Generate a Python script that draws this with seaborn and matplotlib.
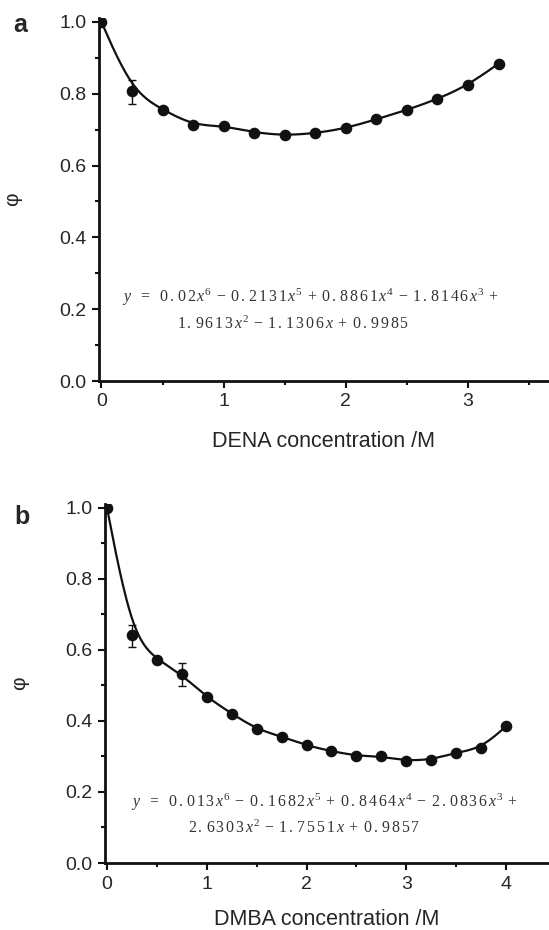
import numpy as np
import pandas as pd
import seaborn as sns
import matplotlib.pyplot as plt
from matplotlib.ticker import MultipleLocator

# panel a : DENA
dena_x = [0, 0.25, 0.5, 0.75, 1.0, 1.25, 1.5, 1.75, 2.0, 2.25, 2.5, 2.75, 3.0, 3.25]
dena_phi = [1.0, 0.807, 0.756, 0.712, 0.711, 0.692, 0.684, 0.690, 0.704, 0.729, 0.755, 0.785, 0.824, 0.884]
dena_err_x = [0.25]
dena_err_y = [0.805]
dena_err = [0.033]

# panel b : DMBA
dmba_x = [0, 0.25, 0.5, 0.75, 1.0, 1.25, 1.5, 1.75, 2.0, 2.25, 2.5, 2.75, 3.0, 3.25, 3.5, 3.75, 4.0]
dmba_phi = [1.0, 0.641, 0.573, 0.531, 0.467, 0.421, 0.377, 0.356, 0.331, 0.315, 0.302, 0.300,
            0.288, 0.291, 0.311, 0.323, 0.385]
dmba_err_x = [0.25, 0.75]
dmba_err_y = [0.638, 0.530]
dmba_err = [0.031, 0.032]

# fitted polynomials as printed on the chart: (coefficient, power)
eq_a_terms = [("0.02", 6), ("0.2131", 5), ("0.8861", 4), ("1.8146", 3), ("1.9613", 2), ("1.1306", 1), ("0.9985", 0)]
eq_a_signs = ["", "-", "+", "-", "+", "-", "+"]
eq_b_terms = [("0.013", 6), ("0.1682", 5), ("0.8464", 4), ("2.0836", 3), ("2.6303", 2), ("1.7551", 1), ("0.9857", 0)]
eq_b_signs = ["", "-", "+", "-", "+", "-", "+"]

sns.set_style("ticks")
plt.rcParams['font.family'] = ['Liberation Sans', 'DejaVu Sans']
plt.rcParams['mathtext.fontset'] = 'custom'
plt.rcParams['mathtext.rm'] = 'Liberation Serif'
plt.rcParams['mathtext.it'] = 'Liberation Serif:italic'
plt.rcParams['mathtext.default'] = 'rm'


def bspline(x, y, n=30):
    # cubic B-spline connection through the points (ends clamped), like Origin's "B-Spline" line
    px = np.r_[x[0], x[0], x, x[-1], x[-1]]
    py = np.r_[y[0], y[0], y, y[-1], y[-1]]
    t = np.linspace(0, 1, n)
    b = np.array([(1 - t) ** 3, 3 * t ** 3 - 6 * t ** 2 + 4, -3 * t ** 3 + 3 * t ** 2 + 3 * t + 1, t ** 3]) / 6
    cx, cy = [], []
    for i in range(len(px) - 3):
        cx.append(b.T @ px[i:i + 4])
        cy.append(b.T @ py[i:i + 4])
    return np.concatenate(cx), np.concatenate(cy)


def term(sign, num, power):
    s = r"\,".join(num)
    if power == 1:
        s += r"\,\mathit{x}"
    elif power > 1:
        s += r"\,\mathit{x}^{%d}" % power
    if sign:
        s = r"\;%s\;" % ("-" if sign == "-" else "+") + s
    return s


def equation(terms, signs):
    parts = [term(sg, n, p) for (n, p), sg in zip(terms, signs)]
    line1 = r"$\mathit{y}\ \ =\ \ " + "".join(parts[:4]) + r"\;+$"
    line2 = "$" + "".join(parts[4:]).replace(r"\;+\;", "", 1) + "$"
    return line1, line2


fig = plt.figure(figsize=(5.49, 9.30), dpi=100)
W, H = 549, 930

def make_ax(left, right, top, bottom):
    return fig.add_axes([left / W, 1 - bottom / H, (right - left) / W, (bottom - top) / H])

ax_a = make_ax(99, 549, 18.4, 381)
ax_b = make_ax(105, 549, 504.4, 863)

panels = [
    (ax_a, dena_x, dena_phi, dena_err_x, dena_err_y, dena_err, (-0.02, 3.663),
     "DENA concentration /M", "a", (-0.19, 0.982), 15),
    (ax_b, dmba_x, dmba_phi, dmba_err_x, dmba_err_y, dmba_err, (-0.02, 4.431),
     "DMBA concentration /M", "b", (-0.205, 0.965), 12),
]

for ax, x, y, ex, ey, ee, xl, xlab, letter, lpos, lpad in panels:
    df = pd.DataFrame({"c": x, "phi": y})
    sx, sy = bspline(np.array(x, float), np.array(y, float))
    sns.lineplot(x=sx, y=sy, ax=ax, sort=False, estimator=None, color="#111111", lw=1.6)
    ax.errorbar(ex, ey, yerr=ee, fmt="none", ecolor="#111111", elinewidth=1.0, capsize=3, capthick=1.0)
    sns.scatterplot(data=df, x="c", y="phi", ax=ax, color="#111111", s=70, edgecolor="#111111",
                    linewidth=0, zorder=3)
    ax.set_xlim(*xl)
    ax.xaxis.set_major_locator(MultipleLocator(1))
    ax.xaxis.set_minor_locator(MultipleLocator(0.5))
    ax.set_yticks([0, 0.2, 0.4, 0.6, 0.8, 1.0])
    ax.set_yticklabels(["0.0", "0.2", "0.4", "0.6", "0.8", "1.0"])
    ax.yaxis.set_minor_locator(MultipleLocator(0.1))
    ax.set_ylim(0, 1.01)
    ax.tick_params(which="major", length=5, width=1.5, labelsize=14, pad=4, color="#111111")
    ax.tick_params(which="minor", length=3, width=1.5, color="#111111")
    for s in ["top", "right"]:
        ax.spines[s].set_visible(False)
    for s in ["left", "bottom"]:
        ax.spines[s].set_linewidth(2)
        ax.spines[s].set_color("#111111")
    ax.set_xlabel(xlab, fontsize=15.5, labelpad=lpad)
    ax.set_ylabel("φ", fontsize=15)
    ax.yaxis.set_label_coords(-0.17, 0.5)
    ax.text(lpos[0], lpos[1], letter, transform=ax.transAxes, fontsize=18, fontweight="bold", va="center")

eq_kw = dict(fontsize=11.4, color="#333333", ha="left", va="center")
a1, a2 = equation(eq_a_terms, eq_a_signs)
b1, b2 = equation(eq_b_terms, eq_b_signs)
ax_a.text(0.051, 0.232, a1, transform=ax_a.transAxes, **eq_kw)
ax_a.text(0.173, 0.160, a2, transform=ax_a.transAxes, **eq_kw)
ax_b.text(0.059, 0.170, b1, transform=ax_b.transAxes, **eq_kw)
ax_b.text(0.187, 0.100, b2, transform=ax_b.transAxes, **eq_kw)

fig.savefig("out.png", dpi=100)
